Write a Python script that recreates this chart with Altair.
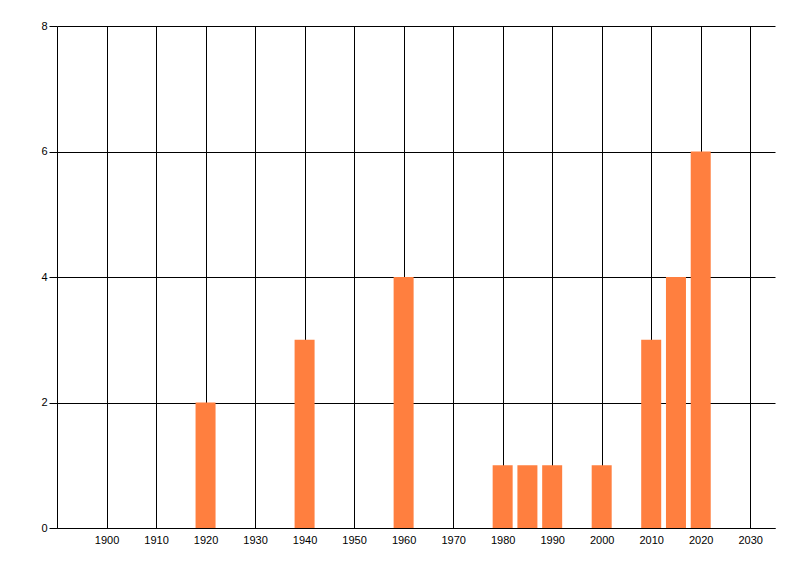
import altair as alt
import pandas as pd

# values
years = [1920, 1940, 1960, 1980, 1985, 1990, 2000, 2010, 2015, 2020]
counts = [2, 3, 4, 1, 1, 1, 1, 3, 4, 6]
x_ticks = list(range(1900, 2031, 10))
y_ticks = [0, 2, 4, 6, 8]

data = pd.DataFrame({"Year": years, "Count": counts})

font = "Liberation Sans"

chart = alt.Chart(data).mark_bar(size=20, color="#FF7F3F").encode(
    x=alt.X(
        "Year:Q",
        scale=alt.Scale(domain=[1890, 2035], nice=False, zero=False, padding=0),
        axis=alt.Axis(
            values=x_ticks, format="d", title=None,
            grid=True, gridColor="black", gridOpacity=1, gridWidth=1,
            domainColor="black", domainWidth=1,
            ticks=False, labelPadding=6,
            labelFont=font, labelFontSize=11, labelColor="black",
        ),
    ),
    y=alt.Y(
        "Count:Q",
        scale=alt.Scale(domain=[0, 8], nice=False, padding=0),
        axis=alt.Axis(
            values=y_ticks, title=None,
            grid=True, gridColor="black", gridOpacity=1, gridWidth=1,
            domainColor="black", domainWidth=1,
            ticks=True, tickColor="black", tickSize=8, labelPadding=2,
            labelFont=font, labelFontSize=11, labelColor="black",
        ),
    ),
).properties(
    width=718,
    height=502,
    autosize=alt.AutoSizeParams(type="none"),
    padding={"left": 49, "top": 18, "right": 10, "bottom": 32},
).configure_view(
    stroke=None
)

chart.save("out.html", embed_options={"renderer": "svg", "actions": False})
